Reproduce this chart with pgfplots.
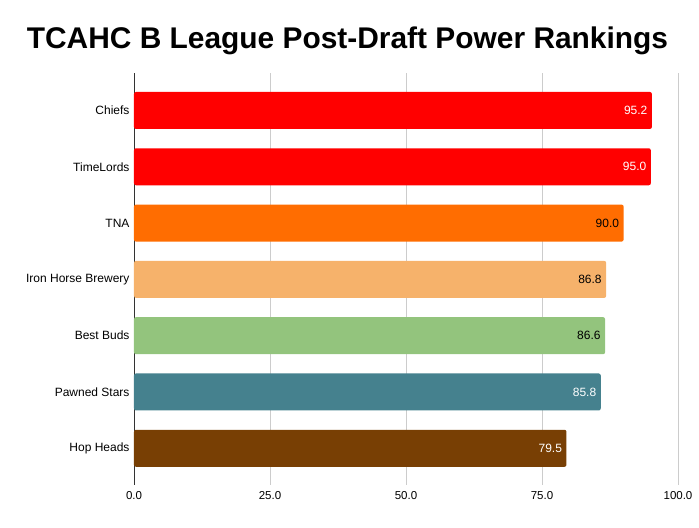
\documentclass[border=0pt]{standalone}
\usepackage{pgfplots}
\pgfplotsset{compat=1.18}
\usepackage{fontspec}
\setmainfont{Liberation Sans}

\definecolor{cRed}{HTML}{FF0000}
\definecolor{cOrange}{HTML}{FF6D01}
\definecolor{cSand}{HTML}{F6B26B}
\definecolor{cGreen}{HTML}{93C47D}
\definecolor{cTeal}{HTML}{45818E}
\definecolor{cBrown}{HTML}{783F04}
\definecolor{gridgray}{HTML}{CCCCCC}

\begin{document}
\begin{tikzpicture}
\begin{axis}[
    scale only axis,
    width=544pt, height=412pt,
    xbar, bar shift=0pt, bar width=37pt,
    xmin=0, xmax=100,
    ymin=-0.652, ymax=6.666,
    xtick={0,25,50,75,100},
    ytick={0,1,2,3,4,5,6},
    yticklabels={Hop Heads, Pawned Stars, Best Buds, Iron Horse Brewery, TNA, TimeLords, Chiefs},
    major tick length=0pt,
    xmajorgrids, major grid style={gridgray, line width=0.8pt},
    axis lines*=left,
    x axis line style={draw=none},
    y axis line style={black!80, line width=0.8pt},
    x tick label style={font=\fontsize{11.5}{13}\selectfont, yshift=-3pt},
    y tick label style={font=\fontsize{12}{14}\selectfont, xshift=-1pt},
    /pgf/number format/assume math mode=true,
    xticklabel={\pgfmathprintnumber[fixed, fixed zerofill, precision=1]{\tick}},
    nodes near coords={\pgfmathprintnumber[fixed, fixed zerofill, precision=1, assume math mode=true]{\pgfplotspointmeta}},
    nodes near coords align={anchor=east},
    every node near coord/.append style={font=\fontsize{12}{14}\selectfont, xshift=-1pt},
    every axis plot/.append style={rounded corners=2pt},
    clip=false,
]
\addplot[fill=cRed, draw=none, every node near coord/.append style={white}] coordinates {(95.2,6)};
\addplot[fill=cRed, draw=none, every node near coord/.append style={white}] coordinates {(95.0,5)};
\addplot[fill=cOrange, draw=none, every node near coord/.append style={black}] coordinates {(90.0,4)};
\addplot[fill=cSand, draw=none, every node near coord/.append style={black}] coordinates {(86.8,3)};
\addplot[fill=cGreen, draw=none, every node near coord/.append style={black}] coordinates {(86.6,2)};
\addplot[fill=cTeal, draw=none, every node near coord/.append style={white}] coordinates {(85.8,1)};
\addplot[fill=cBrown, draw=none, every node near coord/.append style={white}] coordinates {(79.5,0)};
\end{axis}
\node[anchor=base, font=\bfseries\fontsize{29.9}{34}\selectfont]
    at ([xshift=213.5pt, yshift=436pt]current axis.south west)
    {TCAHC B League Post-Draft Power Rankings};
\useasboundingbox ([xshift=-134pt, yshift=-43pt]current axis.south west)
    rectangle ([xshift=21pt, yshift=73pt]current axis.north east);
\end{tikzpicture}
\end{document}
